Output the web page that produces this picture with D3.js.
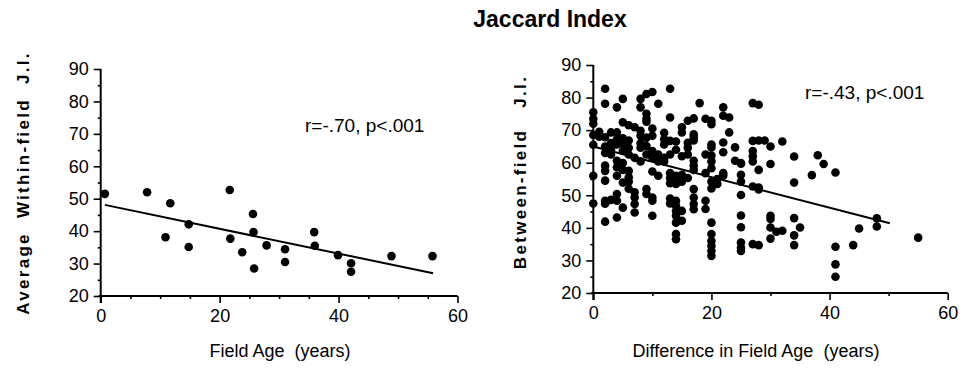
<!DOCTYPE html>
<html><head><meta charset="utf-8">
<script src="https://cdn.jsdelivr.net/npm/d3@7"></script>
<style>
body{margin:0;background:#fff;}
svg{display:block;font-family:Arial,"Liberation Sans",Helvetica,sans-serif;}
</style></head>
<body><svg id="c" width="963" height="369"></svg>
<script>
// ---- data ----
const title = "Jaccard Index";
const leftXLabel = "Field Age  (years)";
const leftYLabel = "Average  Within-field  J.I.";
const rightXLabel = "Difference in Field Age  (years)";
const rightYLabel = "Between-field   J.I.";
const leftStat = "r=-.70, p<.001";
const rightStat = "r=-.43, p<.001";
const xTicks = [0, 20, 40, 60];
const yTicks = [20, 30, 40, 50, 60, 70, 80, 90];

// Left panel: field age vs average within-field J.I.
const leftAge = [0.7, 7.8, 11.7, 10.9, 14.8, 14.8, 21.7, 21.8, 23.8, 25.6, 25.7, 25.8, 27.9, 31.0, 31.0, 35.9, 36.0, 39.9, 42.1, 42.1, 48.9, 55.8];
const leftJI  = [51.5, 52.0, 48.6, 38.1, 42.1, 35.1, 52.7, 37.7, 33.5, 45.3, 39.7, 28.5, 35.6, 34.4, 30.5, 39.7, 35.5, 32.6, 30.1, 27.5, 32.3, 32.3];
const leftFit = [[0.7, 48.1], [55.9, 27.0]];

// Right panel: difference in field age vs between-field J.I. (grouped by column)
const rightCols = [
  [0, [75.5, 73.5, 72, 68.5, 65.5, 56, 47.5]],
  [1, [69.5, 68]],
  [2, [82.7, 78.1, 67.8, 65, 63, 59.1, 57.5, 54.5, 48.3, 47.4, 41.9]],
  [3, [69.3, 66, 64, 62.5, 48.6]],
  [4, [77, 69.3, 67.2, 65.6, 60.6, 58.6, 56, 50.4, 48.3, 43.2]],
  [5, [79.6, 72.4, 67.5, 65.8, 63.6, 59.9, 57.8, 53.9, 46.2]],
  [6, [71.5, 66.8, 64.6, 62.5, 57.5, 55.5, 54.2, 52]],
  [7, [70.9, 61.5, 50.9, 49.3, 47.3, 44.7]],
  [8, [79.6, 77, 69.8, 68.3, 66, 64.6, 60.4]],
  [9, [81.1, 75, 73.5, 72.6, 67.7, 65.1, 62.5, 51.9, 50.4]],
  [10, [81.7, 70.5, 68.3, 63.6, 61.5, 57.3, 49.3, 48.3, 43.7]],
  [11, [78.1, 62.5, 60.4, 56]],
  [12, [69.2, 67.2, 65.6, 61.5, 60.4]],
  [13, [82.7, 73.9, 66.7, 62.5, 56.8, 55.3, 53.7, 49, 47.5]],
  [14, [66.5, 64, 56, 54.5, 53.5, 48.3, 46.8, 45.2, 43.7, 41.6, 38.1, 36.5]],
  [15, [70.9, 69.3, 62, 56.3, 54.2, 45.2, 42.2]],
  [16, [72.9, 66.1, 64.6, 62.5, 55.3]],
  [17, [73.6, 68.7, 67.8, 66.8, 60.6, 59.1, 57.8, 51.9, 49.3, 47.3, 45.7]],
  [18, [78.3]],
  [19, [73.5, 62.5, 56.8, 48.3, 45.8]],
  [20, [72.9, 71.8, 65.6, 64.7, 62.2, 60.4, 58.3, 54.2, 52.1, 41.6, 38.1, 36, 34.5, 32.9, 31.4]],
  [21, [55, 53.5]],
  [22, [77, 74.4, 66.2, 63.2, 56.8, 56]],
  [23, [73.9, 69.3]],
  [24, [64.7, 60.6]],
  [25, [59.9, 59.7, 56.3, 54.2, 50.1, 43.8, 40.2, 35.5, 33.9, 32.9]],
  [27, [78.3, 66.7, 63.6, 62, 60.4, 52.7, 35]],
  [28, [77.8, 66.8, 57.8, 52.4, 51.8, 34.7]],
  [29, [66.8]],
  [30, [65, 59.6, 43.7, 42.7, 40.1, 36.7]],
  [31, [38.8]],
  [32, [66.5, 39.1]],
  [34, [61.9, 53.9, 43, 37.7, 34.7]],
  [35, [40.1]],
  [37, [56.2]],
  [38, [62.3]],
  [39, [59.6]],
  [41, [57, 34.2, 28.8, 25]],
  [44, [34.7]],
  [45, [39.8]],
  [48, [42.9, 40.4]],
  [55, [37]]
];
const rightFit = [[0, 65], [50.2, 41.4]];

// ---- drawing ----
const svg = d3.select("#c");
const FONT = 'Arial, "Liberation Sans", Helvetica, sans-serif';

svg.append("text").attr("x", 550).attr("y", 27).attr("text-anchor", "middle")
  .attr("font-size", 23).attr("font-weight", "bold").text(title);

function panel(cfg) {
  const x = d3.scaleLinear().domain([0, 60]).range(cfg.xr);
  const y = d3.scaleLinear().domain([20, 90]).range(cfg.yr);
  const g = svg.append("g");
  const x0 = x(0), y0 = y(20);

  // x axis
  const xa = g.append("g").attr("transform", `translate(0,${y0})`)
    .call(d3.axisBottom(x).tickValues(xTicks).tickSize(7).tickPadding(6).tickFormat(d3.format("d")));
  const xm = g.append("g").attr("transform", `translate(0,${y0})`)
    .call(d3.axisBottom(x).tickValues(d3.range(0, 61, cfg.xMinor).filter(v => v % 20)).tickSize(3).tickFormat(""));
  // y axis
  const ya = g.append("g").attr("transform", `translate(${x0},0)`)
    .call(d3.axisLeft(y).tickValues(yTicks).tickSize(7).tickPadding(5).tickFormat(d3.format("d")));
  const ym = g.append("g").attr("transform", `translate(${x0},0)`)
    .call(d3.axisLeft(y).tickValues(d3.range(25, 90, 10)).tickSize(3).tickFormat(""));
  [xa, xm, ya, ym].forEach(a => {
    a.selectAll(".domain").attr("stroke", "#000").attr("stroke-width", 2).attr("d", null);
    a.selectAll(".tick line").attr("stroke", "#000").attr("stroke-width", 1.6);
    a.selectAll(".tick text").attr("fill", "#000").attr("font-size", 18).attr("font-family", FONT);
  });
  xa.select(".domain").attr("d", `M${x0 - 2},0H${x(60)}`);
  xm.select(".domain").remove();
  ya.select(".domain").attr("d", `M0,${y(90)}V${y0 + 7}`);
  ym.select(".domain").remove();

  // fit line
  g.append("line").attr("x1", x(cfg.fit[0][0])).attr("y1", y(cfg.fit[0][1]))
    .attr("x2", x(cfg.fit[1][0])).attr("y2", y(cfg.fit[1][1]))
    .attr("stroke", "#000").attr("stroke-width", 2);

  // points
  g.selectAll("circle.pt").data(cfg.pts).join("circle").attr("class", "pt")
    .attr("cx", d => x(d[0])).attr("cy", d => y(d[1])).attr("r", 4.3).attr("fill", "#000");

  // stat text
  g.append("text").attr("x", cfg.statX).attr("y", cfg.statY).attr("font-size", 19).text(cfg.stat);

  // axis titles
  g.append("text").attr("x", cfg.xlX).attr("y", 357).attr("text-anchor", "middle")
    .attr("font-size", 18).style("white-space", "pre").text(cfg.xl);
  g.append("text").attr("transform", `translate(${cfg.ylX},${cfg.ylY}) rotate(-90)`)
    .attr("text-anchor", "middle").attr("font-size", 17).attr("font-weight", "bold")
    .attr("letter-spacing", 2.3).style("white-space", "pre").text(cfg.yl);
}

panel({
  xr: [100.7, 457.5], yr: [296, 69], xMinor: 5,
  pts: leftAge.map((a, i) => [a, leftJI[i]]), fit: leftFit,
  stat: leftStat, statX: 305, statY: 132,
  xl: leftXLabel, xlX: 280, yl: leftYLabel, ylX: 29, ylY: 183
});
panel({
  xr: [593.3, 947.7], yr: [293, 65], xMinor: 10,
  pts: rightCols.flatMap(([d, vs]) => vs.map(v => [d, v])), fit: rightFit,
  stat: rightStat, statX: 805, statY: 99,
  xl: rightXLabel, xlX: 756, yl: rightYLabel, ylX: 526, ylY: 172
});
</script></body></html>
